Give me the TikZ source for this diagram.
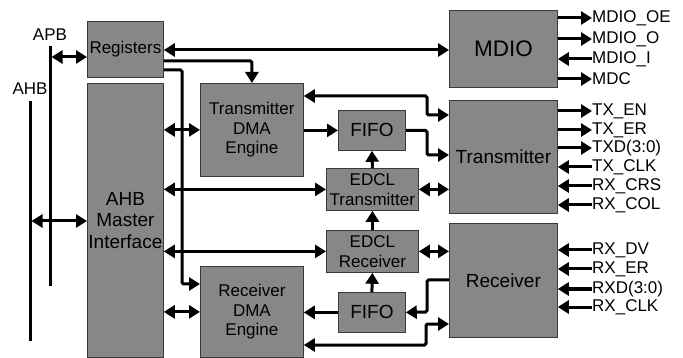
\documentclass[tikz,border=0pt]{standalone}
\usepackage{fontspec}
\setmainfont{Liberation Sans}
\usetikzlibrary{arrows.meta}

\definecolor{blockgray}{HTML}{878787}
\definecolor{blockedge}{HTML}{3A3A3A}
\newcommand{\labfont}{\fontsize{17}{19.5}\selectfont}
\newcommand{\midfont}{\fontsize{19}{21.5}\selectfont}
\newcommand{\bigfont}{\fontsize{22.5}{25}\selectfont}

\begin{document}
\begin{tikzpicture}[x=1pt,y=-1pt,
    block/.style={draw=blockedge,line width=0.8pt,fill=blockgray,anchor=north west,
      inner sep=0pt,align=center,font=\labfont},
    bus/.style={line width=3pt},
    arr/.style={line width=3pt,rounded corners=1.5pt,-{Triangle[length=11pt,width=13pt]}},
    dbl/.style={line width=3pt,rounded corners=1.5pt,
      {Triangle[length=11pt,width=13pt]}-{Triangle[length=11pt,width=13pt]}},
    sig/.style={anchor=west,inner sep=0pt,font=\labfont}]

  \useasboundingbox (0,0) rectangle (683,358);

  % system buses
  \node[font=\labfont] (apb) at (50,35) {APB};
  \node[font=\labfont] (ahbbus) at (30,89) {AHB};
  \draw[bus] (50,46) -- (50,286);
  \draw[bus] (30,101) -- (30,341);
  \coordinate (apbtap) at (51.5,57);
  \coordinate (ahbtap) at (31.5,221);

  % blocks
  \node[block,minimum width=76pt,minimum height=56pt] (reg) at (87,21) {Registers};
  \node[block,minimum width=76pt,minimum height=274pt,font=\midfont] (ahb) at (87,83) {AHB\\Master\\Interface};
  \node[block,minimum width=103pt,minimum height=93pt] (txdma) at (200,83) {Transmitter\\DMA\\Engine};
  \node[block,minimum width=103pt,minimum height=91pt] (rxdma) at (200,266) {Receiver\\DMA\\Engine};
  \node[block,minimum width=67pt,minimum height=40pt,font=\midfont] (txfifo) at (338,110) {FIFO};
  \node[block,minimum width=67pt,minimum height=40pt,font=\midfont] (rxfifo) at (338,292) {FIFO};
  \node[block,minimum width=92pt,minimum height=42pt] (edcltx) at (326,168) {EDCL\\Transmitter};
  \node[block,minimum width=92pt,minimum height=42pt] (edclrx) at (326,230) {EDCL\\Receiver};
  \node[block,minimum width=108pt,minimum height=77pt,font=\bigfont] (mdio) at (449,10) {MDIO};
  \node[block,minimum width=108pt,minimum height=113pt,font=\midfont] (tx) at (449,100) {Transmitter};
  \node[block,minimum width=108pt,minimum height=114pt,font=\midfont] (rx) at (449,223) {Receiver};

  % bus connections
  \draw[dbl] (apbtap) -- (reg.west |- apbtap);
  \draw[dbl] (ahbtap) -- (ahb.west |- ahbtap);

  % register paths
  \draw[dbl] (reg.east |- 0,50) -- (mdio.west |- 0,50);
  \draw[arr] (reg.east |- 0,61) -| (txdma.north);
  \draw[arr] (reg.east |- 0,70) -| (182,284) -- (rxdma.west |- 0,284);

  % AHB master to the DMA engines and EDCL
  \draw[dbl] (ahb.east |- txdma.west) -- (txdma.west);
  \draw[dbl] (ahb.east |- edcltx.west) -- (edcltx.west);
  \draw[dbl] (ahb.east |- edclrx.west) -- (edclrx.west);
  \draw[dbl] (ahb.east |- rxdma.west) -- (rxdma.west);

  % transmit side
  \draw[arr] (txdma.east |- txfifo.west) -- (txfifo.west);
  \draw[arr] (edcltx.north) -- (txfifo.south);
  \draw[arr] (edclrx.north) -- (edcltx.south);
  \draw[dbl] (txdma.east |- 0,96) -| (427,115) -- (tx.west |- 0,115);
  \draw[arr] (txfifo.east) -| (427,155) -- (tx.west |- 0,155);
  \draw[dbl] (edcltx.east) -- (tx.west |- edcltx.east);

  % receive side
  \draw[arr] (rxfifo.north) -- (edclrx.south);
  \draw[arr] (rxfifo.west) -- (rxdma.east |- rxfifo.west);
  \draw[dbl] (edclrx.east) -- (rx.west |- edclrx.east);
  \draw[arr] (rx.west |- 0,280) -| (427,312) -- (rxfifo.east);
  \draw[dbl] (rxdma.east |- 0,345) -| (426,324) -- (rx.west |- 0,324);

  % MDIO signals
  \node[sig] (mdiooe) at (592,18) {MDIO\_OE};
  \node[sig] (mdioo) at (592,39) {MDIO\_O};
  \node[sig] (mdioi) at (592,59) {MDIO\_I};
  \node[sig] (mdc) at (592,79) {MDC};
  \draw[arr] (mdio.east |- mdiooe.west) -- (mdiooe.west);
  \draw[arr] (mdio.east |- mdioo.west) -- (mdioo.west);
  \draw[arr] (mdioi.west) -- (mdio.east |- mdioi.west);
  \draw[arr] (mdio.east |- mdc.west) -- (mdc.west);

  % transmitter signals
  \node[sig] (txen) at (592,111) {TX\_EN};
  \node[sig] (txer) at (592,130) {TX\_ER};
  \node[sig] (txd) at (592,148) {TXD(3:0)};
  \node[sig] (txclk) at (592,167) {TX\_CLK};
  \node[sig] (rxcrs) at (592,186) {RX\_CRS};
  \node[sig] (rxcol) at (592,205) {RX\_COL};
  \draw[arr] (tx.east |- txen.west) -- (txen.west);
  \draw[arr] (tx.east |- txer.west) -- (txer.west);
  \draw[arr] (tx.east |- txd.west) -- (txd.west);
  \draw[arr] (txclk.west) -- (tx.east |- txclk.west);
  \draw[arr] (rxcrs.west) -- (tx.east |- rxcrs.west);
  \draw[arr] (rxcol.west) -- (tx.east |- rxcol.west);

  % receiver signals
  \node[sig] (rxdv) at (592,250) {RX\_DV};
  \node[sig] (rxer) at (592,269) {RX\_ER};
  \node[sig] (rxd) at (592,289) {RXD(3:0)};
  \node[sig] (rxclk) at (592,307) {RX\_CLK};
  \draw[arr] (rxdv.west) -- (rx.east |- rxdv.west);
  \draw[arr] (rxer.west) -- (rx.east |- rxer.west);
  \draw[arr] (rxd.west) -- (rx.east |- rxd.west);
  \draw[arr] (rxclk.west) -- (rx.east |- rxclk.west);

\end{tikzpicture}
\end{document}
